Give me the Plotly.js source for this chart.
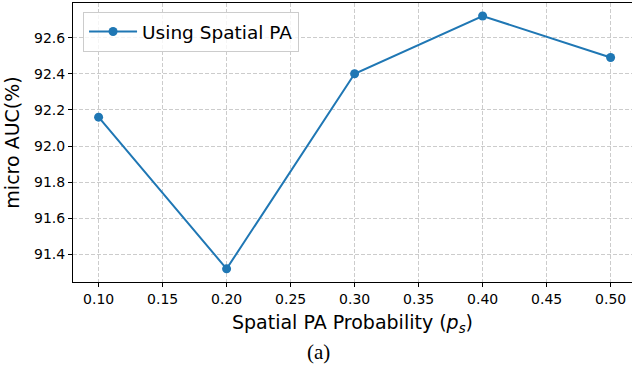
<!DOCTYPE html>
<html><head><meta charset="utf-8">
<script src="https://cdn.plot.ly/plotly-3.0.1.min.js"></script>
<style>html,body{margin:0;padding:0;background:#fff;}#chart{width:632px;height:368px;}</style>
</head><body><div id="chart"></div>
<script>
const probabilities = [0.10, 0.20, 0.30, 0.40, 0.50];
const microAUC = [92.16, 91.32, 92.40, 92.72, 92.49];
const seriesName = 'Using Spatial PA';
const xTitle = 'Spatial PA Probability (<i>p<sub>s</sub></i>)';
const yTitle = 'micro AUC(%)';
const caption = '(a)';

const font = 'DejaVu Sans, sans-serif';
const trace = {
  x: probabilities, y: microAUC, name: seriesName, type: 'scatter', mode: 'lines+markers',
  line: {color: '#1f77b4', width: 2}, marker: {color: '#1f77b4', size: 9}
};
const layout = {
  width: 632, height: 368,
  margin: {l: 73, r: 0, t: 3, b: 86},
  paper_bgcolor: '#fff', plot_bgcolor: '#fff',
  font: {family: font, color: '#000', size: 14},
  showlegend: true,
  legend: {x: 0.018, y: 0.968, xanchor: 'left', yanchor: 'top', bgcolor: 'rgba(255,255,255,0.8)',
           bordercolor: '#cccccc', borderwidth: 1, itemwidth: 48, font: {family: font, size: 18.5}},
  xaxis: {range: [0.08, 0.08 + 559/1280], tickvals: [0.10,0.15,0.20,0.25,0.30,0.35,0.40,0.45,0.50], tickformat: '.2f',
          showline: true, linecolor: '#000', linewidth: 1, mirror: true,
          ticks: 'outside', ticklen: 4, tickcolor: '#000',
          showgrid: true, gridcolor: '#cccccc', griddash: '4px,2px', gridwidth: 1, zeroline: false,
          title: {text: xTitle, font: {family: font, size: 19}, standoff: 9}},
  yaxis: {range: [91.247, 92.792], tickvals: [91.4,91.6,91.8,92.0,92.2,92.4,92.6], tickformat: '.1f',
          showline: true, linecolor: '#000', linewidth: 1, mirror: false,
          ticks: 'outside', ticklen: 4, tickcolor: '#000',
          showgrid: true, gridcolor: '#cccccc', griddash: '4px,2px', gridwidth: 1, zeroline: false,
          title: {text: yTitle, font: {family: font, size: 19}, standoff: 9}},
  annotations: [{text: caption, xref: 'paper', yref: 'paper', x: (318-73)/559, y: (282-352)/279,
                 xanchor: 'center', yanchor: 'middle', showarrow: false,
                 font: {family: 'Liberation Serif, Times New Roman, serif', size: 21}}]
};
Plotly.newPlot('chart', [trace], layout, {displayModeBar: false, staticPlot: true});
</script></body></html>
